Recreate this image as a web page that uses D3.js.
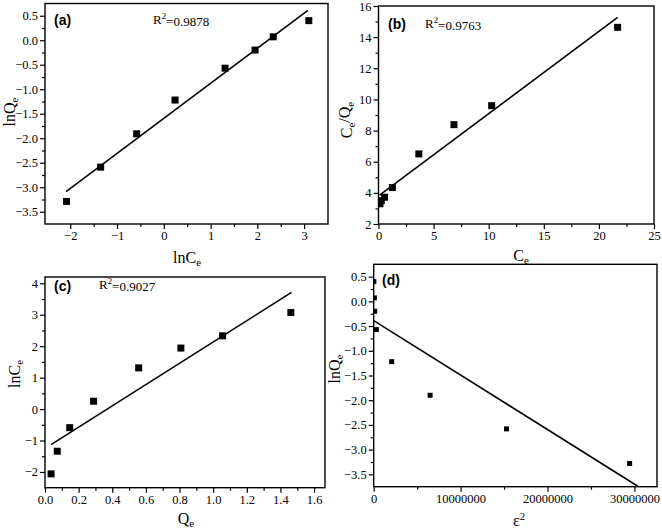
<!DOCTYPE html>
<html><head><meta charset="utf-8">
<script src="https://cdn.jsdelivr.net/npm/d3@7"></script>
<style>body{margin:0;background:#fff}svg{display:block}</style>
</head><body>
<svg id="chart" width="662" height="532"></svg>
<script>
// ---------- Panel (a): Freundlich ----------
const aLnCe = [-2.08, -1.35, -0.58, 0.24, 1.31, 1.95, 2.34, 3.10];
const aLnQe = [-3.29, -2.59, -1.91, -1.22, -0.57, -0.20, 0.07, 0.40];
const aFitX = [-2.09, 3.08];
const aFitY = [-3.09, 0.61];
const aXTicks = [-2, -1, 0, 1, 2, 3];
const aYTicks = [0.5, 0.0, -0.5, -1.0, -1.5, -2.0, -2.5, -3.0, -3.5];

// ---------- Panel (b): Langmuir ----------
const bCe = [0.13, 0.25, 0.55, 1.26, 3.66, 6.85, 10.27, 21.7];
const bCeQe = [3.30, 3.50, 3.72, 4.34, 6.50, 8.38, 9.60, 14.63];
const bFitX = [0.1, 21.7];
const bFitY = [3.86, 15.27];
const bXTicks = [0, 5, 10, 15, 20, 25];
const bYTicks = [2, 4, 6, 8, 10, 12, 14, 16];

// ---------- Panel (c): Temkin ----------
const cQe = [0.036, 0.073, 0.147, 0.289, 0.557, 0.808, 1.056, 1.462];
const cLnCe = [-2.06, -1.34, -0.59, 0.25, 1.31, 1.94, 2.33, 3.07];
const cFitX = [0.036, 1.466];
const cFitY = [-1.13, 3.71];
const cXTicks = [0.0, 0.2, 0.4, 0.6, 0.8, 1.0, 1.2, 1.4, 1.6];
const cYTicks = [-2, -1, 0, 1, 2, 3, 4];

// ---------- Panel (d): D-R ----------
const dEps2 = [20000, 80000, 120000, 300000, 2070000, 6490000, 15280000, 29450000];
const dLnQe = [0.40, 0.07, -0.20, -0.57, -1.22, -1.90, -2.58, -3.28];
const dFitX = [0, 30400000];
const dFitY = [-0.39, -3.74];
const dXTicks = [0, 10000000, 20000000, 30000000];
const dYTicks = [0.5, 0.0, -0.5, -1.0, -1.5, -2.0, -2.5, -3.0, -3.5];

const R2 = ["0.9878", "0.9763", "0.9027"];

const svg = d3.select("#chart");
const serif = "'Liberation Serif','Times New Roman',serif";
const sans = "'Liberation Sans',Arial,sans-serif";
let clipId = 0;

function minorTicks(major) {
  const out = [];
  const s = major.slice().sort((p, q) => p - q);
  for (let i = 0; i < s.length - 1; i++) out.push((s[i] + s[i + 1]) / 2);
  return out;
}

function subLabel(sel, parts) {
  parts.forEach(([t, type]) => {
    const ts = sel.append("tspan").text(t);
    if (type === "s") ts.attr("font-size", "0.68em").attr("dy", "0.3em");
    else if (type === "p") ts.attr("font-size", "0.68em").attr("dy", "-0.55em");
    else if (type === "n2") ts.attr("dy", "-0.3em");
    else if (type === "n3") ts.attr("dy", "0.55em");
  });
}

function panel(cfg) {
  const x = d3.scaleLinear().domain(cfg.xDomain).range([cfg.left, cfg.right]);
  const y = d3.scaleLinear().domain(cfg.yDomain).range([cfg.bottom, cfg.top]);
  const g = svg.append("g");

  const id = "clip" + (clipId++);
  g.append("clipPath").attr("id", id).append("rect")
    .attr("x", cfg.left).attr("y", cfg.top)
    .attr("width", cfg.right - cfg.left).attr("height", cfg.bottom - cfg.top);

  const xm = minorTicks(cfg.xTicks);
  const ym = minorTicks(cfg.yTicks);
  const xMinor = g.append("g").attr("transform", `translate(0,${cfg.bottom})`)
    .call(d3.axisBottom(x).tickValues(xm).tickSize(3).tickFormat(""));
  const yMinor = g.append("g").attr("transform", `translate(${cfg.left},0)`)
    .call(d3.axisLeft(y).tickValues(ym).tickSize(3).tickFormat(""));
  const xAx = g.append("g").attr("transform", `translate(0,${cfg.bottom})`)
    .call(d3.axisBottom(x).tickValues(cfg.xTicks).tickSize(5).tickPadding(2).tickFormat(cfg.xFmt));
  const yAx = g.append("g").attr("transform", `translate(${cfg.left},0)`)
    .call(d3.axisLeft(y).tickValues(cfg.yTicks).tickSize(5).tickPadding(2).tickFormat(cfg.yFmt));
  [xMinor, yMinor, xAx, yAx].forEach(a => {
    a.attr("font-family", serif);
    a.select(".domain").remove();
    a.selectAll("line").attr("stroke", "#000").attr("stroke-width", 1.2);
    a.selectAll("text").attr("font-family", serif).attr("font-size", 12.5).attr("fill", "#000");
  });

  g.append("rect").attr("x", cfg.left).attr("y", cfg.top)
    .attr("width", cfg.right - cfg.left).attr("height", cfg.bottom - cfg.top)
    .attr("fill", "none").attr("stroke", "#000").attr("stroke-width", 1.4);

  const plot = g.append("g").attr("clip-path", `url(#${id})`);
  const fit = cfg.fitX.map((v, i) => [v, cfg.fitY[i]]);
  plot.append("path").datum(fit)
    .attr("d", d3.line().x(d => x(d[0])).y(d => y(d[1])))
    .attr("fill", "none").attr("stroke", "#000").attr("stroke-width", 1.6);
  const pts = cfg.xs.map((v, i) => [v, cfg.ys[i]]);
  const s = cfg.msize;
  plot.selectAll("rect.pt").data(pts).enter().append("rect").attr("class", "pt")
    .attr("x", d => x(d[0]) - s / 2).attr("y", d => y(d[1]) - s / 2)
    .attr("width", s).attr("height", s).attr("fill", "#000");

  g.append("text").attr("x", cfg.lab[0]).attr("y", cfg.lab[1])
    .attr("font-family", sans).attr("font-weight", "bold").attr("font-size", 14)
    .text(cfg.label);
  if (cfg.r2) {
    const t = g.append("text").attr("x", cfg.r2pos[0]).attr("y", cfg.r2pos[1])
      .attr("font-family", serif).attr("font-size", 13);
    subLabel(t, [["R", "n"], ["2", "p"], ["=" + cfg.r2, "n3"]]);
  }
  const xt = g.append("text").attr("x", cfg.xTitlePos[0]).attr("y", cfg.xTitlePos[1])
    .attr("text-anchor", "middle").attr("font-family", serif).attr("font-size", 16);
  subLabel(xt, cfg.xTitle);
  const yt = g.append("text")
    .attr("transform", `translate(${cfg.yTitlePos[0]},${cfg.yTitlePos[1]}) rotate(-90)`)
    .attr("text-anchor", "middle").attr("font-family", serif).attr("font-size", 16);
  subLabel(yt, cfg.yTitle);
}

const f1 = d3.format(".1f");
const fInt = d3.format("d");

panel({
  left: 45, right: 328, top: 3.5, bottom: 224,
  xDomain: [-2.54, 3.51], yDomain: [-3.75, 0.75],
  xTicks: aXTicks, yTicks: aYTicks, xFmt: fInt, yFmt: f1,
  xs: aLnCe, ys: aLnQe, fitX: aFitX, fitY: aFitY, msize: 7,
  label: "(a)", lab: [54, 25], r2: R2[0], r2pos: [153, 24],
  xTitle: [["lnC", "n"], ["e", "s"]], xTitlePos: [187, 263],
  yTitle: [["lnQ", "n"], ["e", "s"]], yTitlePos: [15, 112]
});

panel({
  left: 378.5, right: 654, top: 6, bottom: 224,
  xDomain: [0, 25], yDomain: [2, 16],
  xTicks: bXTicks, yTicks: bYTicks, xFmt: fInt, yFmt: fInt,
  xs: bCe, ys: bCeQe, fitX: bFitX, fitY: bFitY, msize: 7,
  label: "(b)", lab: [388, 29], r2: R2[1], r2pos: [425, 28],
  xTitle: [["C", "n"], ["e", "s"]], xTitlePos: [521, 261],
  yTitle: [["C", "n"], ["e", "s"], ["/Q", "n2"], ["e", "s"]], yTitlePos: [352, 120]
});

panel({
  left: 45, right: 325, top: 277, bottom: 487.7,
  xDomain: [0, 1.665], yDomain: [-2.5, 4.2],
  xTicks: cXTicks, yTicks: cYTicks, xFmt: f1, yFmt: fInt,
  xs: cQe, ys: cLnCe, fitX: cFitX, fitY: cFitY, msize: 7,
  label: "(c)", lab: [54, 291], r2: R2[2], r2pos: [99, 289],
  xTitle: [["Q", "n"], ["e", "s"]], xTitlePos: [186, 524],
  yTitle: [["lnC", "n"], ["e", "s"]], yTitlePos: [20, 374]
});

panel({
  left: 373.7, right: 657, top: 264.3, bottom: 486.7,
  xDomain: [0, 32600000], yDomain: [-3.75, 0.75],
  xTicks: dXTicks, yTicks: dYTicks, xFmt: fInt, yFmt: f1,
  xs: dEps2, ys: dLnQe, fitX: dFitX, fitY: dFitY, msize: 5,
  label: "(d)", lab: [382, 285], r2: null,
  xTitle: [["ε", "n"], ["2", "p"]], xTitlePos: [519, 526],
  yTitle: [["lnQ", "n"], ["e", "s"]], yTitlePos: [340, 369]
});
</script>
</body></html>
